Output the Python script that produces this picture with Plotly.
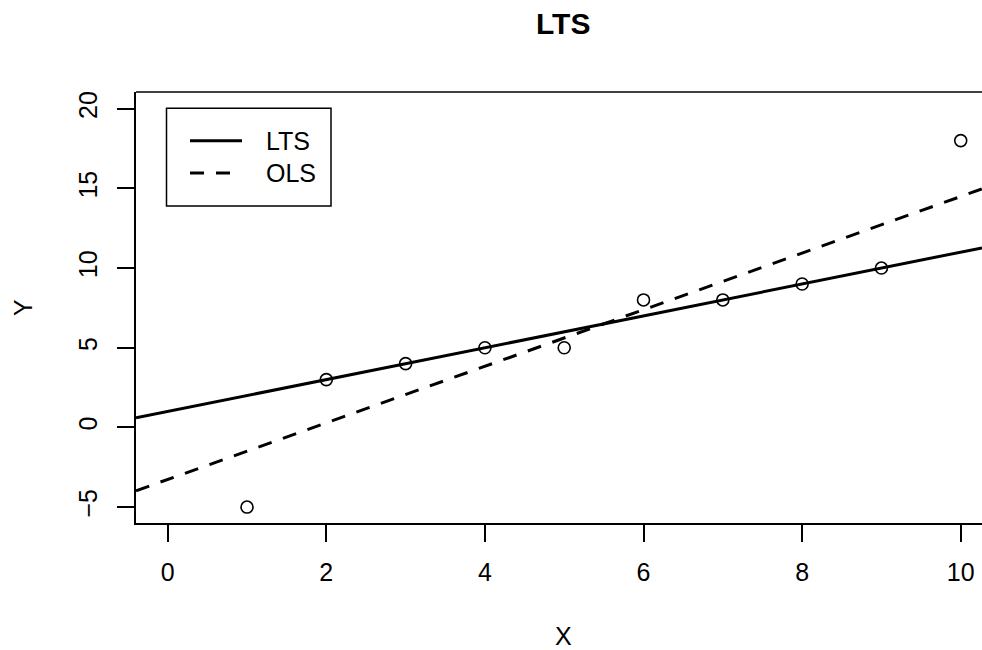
import numpy as np
import plotly.graph_objects as go

# Data
x_vals = [1, 2, 3, 4, 5, 6, 7, 8, 9, 10]
y_vals = [-5, 3, 4, 5, 5, 8, 8, 9, 10, 18]
lts_intercept = 1.0
lts_slope = 1.0
x_ticks = [0, 2, 4, 6, 8, 10]
y_ticks = [-5, 0, 5, 10, 15, 20]

ols_slope, ols_intercept = np.polyfit(x_vals, y_vals, 1)

W, H = 982, 650
ml, mr, mt, mb = 136, 0, 92, 127
x_range = [-0.4, -0.4 + (W - ml - mr) / 79.3]
y_range = [-6.0, 21.05]

FONT = "Liberation Sans, Arial, Helvetica, sans-serif"
FS = 25

xs = np.array(x_range)
fig = go.Figure()
fig.add_trace(go.Scatter(x=xs, y=lts_intercept + lts_slope * xs, mode="lines",
                         line=dict(color="black", width=3), showlegend=False,
                         name="LTS"))
fig.add_trace(go.Scatter(x=xs, y=ols_intercept + ols_slope * xs, mode="lines",
                         line=dict(color="black", width=3, dash="14px,12px"),
                         showlegend=False, name="OLS"))
fig.add_trace(go.Scatter(x=x_vals, y=y_vals, mode="markers",
                         marker=dict(symbol="circle-open", size=12, color="black",
                                     line=dict(width=1.6, color="black")),
                         showlegend=False, cliponaxis=False))

pw = W - ml - mr
ph = H - mt - mb
def px(xp):
    return (xp - ml) / pw
def py(yp):
    return 1 - (yp - mt) / ph

shapes = [
    # top border of the box
    dict(type="line", xref="paper", yref="paper", x0=0, x1=1, y0=1, y1=1,
         line=dict(color="black", width=1.5)),
    # legend box
    dict(type="rect", xref="paper", yref="paper", x0=px(166.5), x1=px(331),
         y0=py(206), y1=py(108.3), line=dict(color="black", width=1.5),
         fillcolor="white"),
    dict(type="line", xref="paper", yref="paper", x0=px(190), x1=px(242),
         y0=py(140.7), y1=py(140.7), line=dict(color="black", width=3)),
    dict(type="line", xref="paper", yref="paper", x0=px(190), x1=px(242),
         y0=py(173), y1=py(173), line=dict(color="black", width=3, dash="14px,12px")),
]
annotations = [
    dict(text="LTS", xref="paper", yref="paper", x=px(264), y=py(140.7),
         xanchor="left", yanchor="middle", showarrow=False,
         font=dict(family=FONT, size=FS, color="black")),
    dict(text="OLS", xref="paper", yref="paper", x=px(264), y=py(173),
         xanchor="left", yanchor="middle", showarrow=False,
         font=dict(family=FONT, size=FS, color="black")),
    dict(text="<b>LTS</b>", xref="paper", yref="paper", x=px(563), y=py(24),
         xanchor="center", yanchor="middle", showarrow=False,
         font=dict(family=FONT, size=30, color="black")),
    dict(text="X", xref="paper", yref="paper", x=px(563), y=py(636),
         xanchor="center", yanchor="middle", showarrow=False,
         font=dict(family=FONT, size=FS, color="black")),
    dict(text="Y", xref="paper", yref="paper", x=px(23), y=py(308),
         xanchor="center", yanchor="middle", showarrow=False, textangle=-90,
         font=dict(family=FONT, size=FS, color="black")),
]

fig.update_layout(
    width=W, height=H,
    margin=dict(l=ml, r=mr, t=mt, b=mb),
    paper_bgcolor="white", plot_bgcolor="white",
    font=dict(family=FONT, size=FS, color="black"),
    shapes=shapes, annotations=annotations,
    xaxis=dict(range=x_range, tickvals=x_ticks, ticks="outside", ticklen=17,
               tickwidth=1.5, tickcolor="black", showline=True, linecolor="black",
               linewidth=1.5, showgrid=False, zeroline=False, ticklabelstandoff=9,
               tickfont=dict(family=FONT, size=FS)),
    yaxis=dict(range=y_range, tickvals=y_ticks, ticks="outside", ticklen=17,
               tickwidth=1.5, tickcolor="black", showline=True, linecolor="black",
               linewidth=1.5, showgrid=False, zeroline=False, tickangle=-90,
               ticklabelstandoff=10, tickfont=dict(family=FONT, size=FS)),
)

fig.write_html("out.html", config={"displayModeBar": False},
               post_script="document.body.style.margin='0';document.body.style.overflow='hidden';")
